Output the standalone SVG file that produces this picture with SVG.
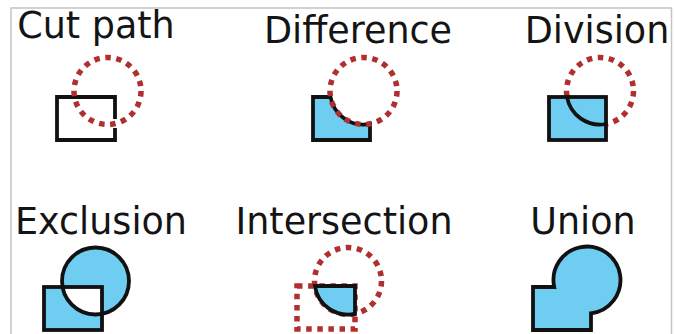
<svg xmlns="http://www.w3.org/2000/svg" width="675" height="334" viewBox="0 0 675 334">
  <style>
    .frame { fill: none; stroke: #c4c4c4; stroke-width: 1.5; }
    .label { font-family: "DejaVu Sans", "Liberation Sans", sans-serif; font-size: 36.5px; fill: #141414; text-anchor: middle; }
    .solid { fill: none; stroke: #111; stroke-width: 3.8; stroke-linejoin: miter; }
    .filled { fill: #6ecdf0; stroke: #111; stroke-width: 3.8; stroke-linejoin: miter; }
    .dots { fill: none; stroke: #b0302f; stroke-width: 5.5; stroke-dasharray: 5.5 5.6; }
  </style>

  <!-- page frame: top, left and right rules -->
  <path class="frame" d="M11,334 V8 H671.5 V334"/>

  <!-- Cut path: rectangle broken where the circle crosses it -->
  <g id="cut-path">
    <text class="label" x="96" y="38">Cut path</text>
    <path class="solid" d="M115,119 V97 H57 V140 H115 V128"/>
    <circle class="dots" cx="107.5" cy="91" r="33.5"/>
  </g>

  <!-- Difference: rectangle minus circle -->
  <g id="difference">
    <text class="label" x="358" y="43">Difference</text>
    <path class="filled" d="M313,97 H330.5 A33.5,33.5 0 0 0 370,123.9 V140 H313 Z"/>
    <circle class="dots" cx="363.5" cy="91" r="33.5"/>
  </g>

  <!-- Division: rectangle split by the circle arc -->
  <g id="division">
    <text class="label" x="597" y="43">Division</text>
    <circle class="dots" cx="600" cy="91" r="33.5"/>
    <rect class="filled" x="549" y="97" width="57" height="43"/>
    <path class="solid" d="M567,97 A33.5,33.5 0 0 0 606,124"/>
  </g>

  <!-- Exclusion: overlap removed -->
  <g id="exclusion">
    <text class="label" x="101" y="234">Exclusion</text>
    <path fill="#6ecdf0" fill-rule="evenodd" d="M44,287 H102 V330 H44 Z M62,281 A33.5,33.5 0 1 0 129,281 A33.5,33.5 0 1 0 62,281 Z"/>
    <rect class="solid" x="44" y="287" width="58" height="43"/>
    <circle class="solid" cx="95.5" cy="281" r="33.5"/>
  </g>

  <!-- Intersection: only the overlap is kept -->
  <g id="intersection">
    <text class="label" x="344" y="234">Intersection</text>
    <rect class="dots" x="297" y="286" width="58" height="43"/>
    <circle class="dots" cx="348" cy="281" r="33.5"/>
    <path class="filled" d="M314.9,286 H355 V313.8 A33.5,33.5 0 0 1 314.9,286 Z"/>
  </g>

  <!-- Union: rectangle and circle merged -->
  <g id="union">
    <text class="label" x="583" y="234">Union</text>
    <path class="filled" d="M533,287 H554.2 A33.5,33.5 0 1 1 591,313.3 V330 H533 Z"/>
  </g>
</svg>
